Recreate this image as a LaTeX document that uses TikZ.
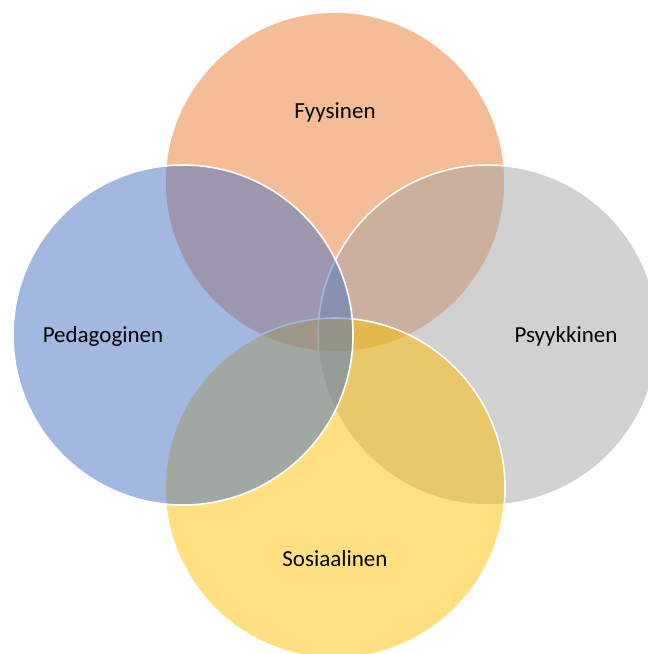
\documentclass[tikz,border=0pt]{standalone}
\usepackage{fontspec}
\setmainfont{Carlito}
\definecolor{cOrange}{HTML}{ED7D31}
\definecolor{cBlue}{HTML}{4472C4}
\definecolor{cGray}{HTML}{A5A5A5}
\definecolor{cGold}{HTML}{FFC000}
\tikzset{
  venn/.style={circle, minimum size=340pt, inner sep=0pt, draw=white, line width=1.6pt, fill opacity=0.5, draw opacity=1},
  lbl/.style={font=\fontsize{23}{27}\selectfont, text=black}
}
\begin{document}
\begin{tikzpicture}[x=1pt,y=-1pt]
\useasboundingbox (0,0) rectangle (648,654);
\clip (0,0) rectangle (648,654);
\fill[white] (0,0) rectangle (648,654);
\node[venn, fill=cOrange] (top) at (335,182) {};
\node[venn, fill=cGray] (right) at (488,335) {};
\node[venn, fill=cGold] (bottom) at (335,488) {};
\node[venn, fill=cBlue] (left) at (183,335) {};
\node[lbl] (tFy) at (335,112) {Fyysinen};
\node[lbl] (tPs) at (566,336) {Psyykkinen};
\node[lbl] (tSo) at (335,559) {Sosiaalinen};
\node[lbl] (tPe) at (103,336) {Pedagoginen};
\end{tikzpicture}
\end{document}
